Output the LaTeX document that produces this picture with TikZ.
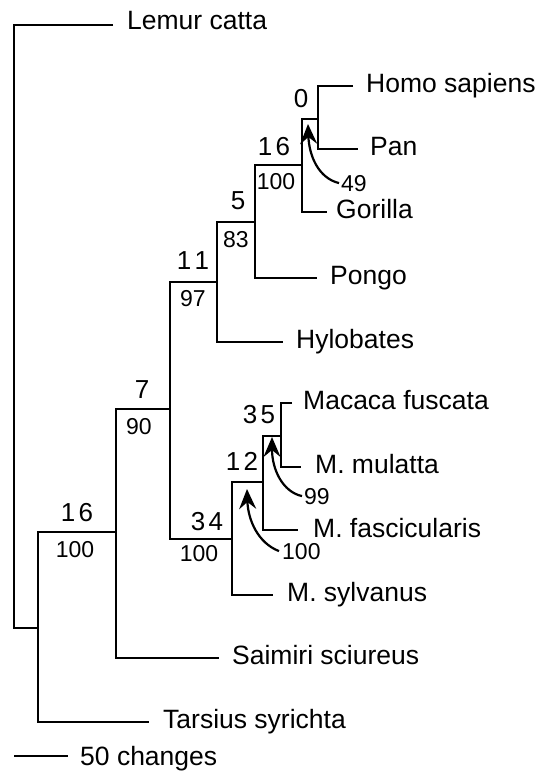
\documentclass[tikz,border=0pt]{standalone}
\usepackage{fontspec}
\setmainfont{Liberation Sans}
\usetikzlibrary{arrows.meta}
\begin{document}
\begin{tikzpicture}[x=1pt,y=-1pt,
  br/.style={line width=2pt},
  taxon/.style={anchor=base west,inner sep=0pt,font=\fontsize{26.5}{30}\selectfont},
  upper/.style={anchor=base,inner sep=0pt,font=\fontsize{26}{30}\selectfont},
  lower/.style={anchor=base,inner sep=0pt,font=\fontsize{23}{26}\selectfont},
  callout/.style={anchor=base west,inner sep=0pt,font=\fontsize{23}{26}\selectfont},
  arr/.style={line width=2.2pt,-{Stealth[length=20pt,width=17pt,inset=7pt]}}]
\useasboundingbox (0,0) rectangle (538,772);

% internal nodes
\coordinate (r)  at (14,628);
\coordinate (nA) at (38,628);
\coordinate (nB) at (116,532);
\coordinate (nC) at (170,409);
\coordinate (nD) at (217,282);
\coordinate (nE) at (255,222);
\coordinate (nF) at (302,165);
\coordinate (nG) at (318,119);
\coordinate (nH) at (232,539);
\coordinate (nI) at (263,482);
\coordinate (nJ) at (281,436);

% leaf ends
\coordinate (lc)  at (113,25);
\coordinate (hs)  at (353,86);
\coordinate (pan) at (358,149);
\coordinate (gor) at (327,212);
\coordinate (pon) at (317,278);
\coordinate (hyl) at (283,342);
\coordinate (mf)  at (292,403);
\coordinate (mm)  at (301,467);
\coordinate (mfa) at (298,530);
\coordinate (msy) at (273,595);
\coordinate (sai) at (219,658);
\coordinate (tar) at (149,722);

% branches
\draw[br] (lc) -| (r) -- (nA);
\draw[br] (nB) -| (nA) |- (tar);
\draw[br] (nC) -| (nB) |- (sai);
\draw[br] (nD) -| (nC) |- (nH);
\draw[br] (nE) -| (nD) |- (hyl);
\draw[br] (nF) -| (nE) |- (pon);
\draw[br] (nG) -| (nF) |- (gor);
\draw[br] (hs) -| (nG) |- (pan);
\draw[br] (nI) -| (nH) |- (msy);
\draw[br] (nJ) -| (nI) |- (mfa);
\draw[br] (mf) -| (nJ) |- (mm);

% taxa
\node[taxon] (tlc)  at (127,29)  {Lemur catta};
\node[taxon] (ths)  at (366,92)  {Homo sapiens};
\node[taxon] (tpan) at (370,155) {Pan};
\node[taxon] (tgor) at (336,218) {Gorilla};
\node[taxon] (tpon) at (330,284) {Pongo};
\node[taxon] (thyl) at (296,348) {Hylobates};
\node[taxon] (tmf)  at (303,409) {Macaca fuscata};
\node[taxon] (tmm)  at (315,473) {M. mulatta};
\node[taxon] (tmfa) at (313,537) {M. fascicularis};
\node[taxon] (tmsy) at (287,601) {M. sylvanus};
\node[taxon] (tsai) at (232,664) {Saimiri sciureus};
\node[taxon] (ttar) at (163,728) {Tarsius syrichta};

% branch support labels
\node[upper] (uA) at (77,521)  {1\hspace{3.5pt}6};
\node[lower] (lA) at (75,557)  {100};
\node[upper] (uB) at (142,398) {7};
\node[lower] (lB) at (139,434) {90};
\node[upper] (uC) at (193,269) {1\hspace{3.5pt}1};
\node[lower] (lC) at (193,306) {97};
\node[upper] (uD) at (238,209) {5};
\node[lower] (lD) at (236,247) {83};
\node[upper] (uE) at (274,155) {1\hspace{3.5pt}6};
\node[lower] (lE) at (276,189) {100};
\node[upper] (uF) at (301,107) {0};
\node[upper] (uH) at (207,530) {3\hspace{3.5pt}4};
\node[lower] (lH) at (199,561) {100};
\node[upper] (uI) at (242,470) {1\hspace{3.5pt}2};
\node[upper] (uJ) at (259,423) {3\hspace{3.5pt}5};

% callouts
\node[callout] (c49)  at (341,191) {49};
\node[callout] (c99)  at (304,504) {99};
\node[callout] (c100) at (282,559) {100};
\coordinate (t49)  at (308,124);
\coordinate (t99)  at (272,437);
\coordinate (t100) at (247,489);
\draw[arr] ([xshift=-2pt]c49.west) .. controls (318,178) and (309,155) .. (t49);
\draw[arr] ([xshift=-2pt]c99.west) .. controls (283,492) and (272,470) .. (t99);
\draw[arr] ([xshift=-3pt]c100.west) .. controls (258,543) and (248,520) .. (t100);

% scale bar
\coordinate (sb1) at (14,756);
\coordinate (sb2) at (68,756);
\draw[br] (sb1) -- (sb2);
\node[taxon] (sbl) at (80,765) {50 changes};
\end{tikzpicture}
\end{document}
